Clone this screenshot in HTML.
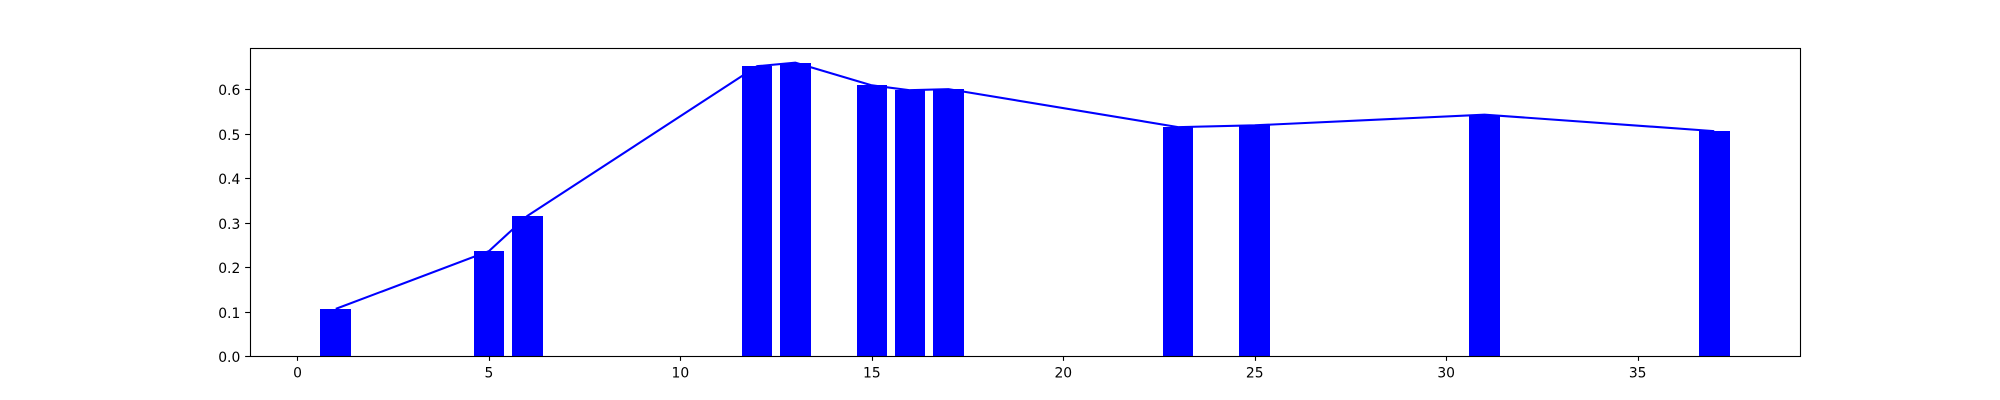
<!DOCTYPE html>
<html>
<head>
<meta charset="utf-8">
<style>
html,body{margin:0;padding:0;background:#fff;}
svg{display:block;}
text{font-family:"DejaVu Sans","Liberation Sans",sans-serif;font-size:13.89px;fill:#000;}
</style>
</head>
<body>
<svg id="chart" width="2000" height="400" viewBox="0 0 2000 400" xmlns="http://www.w3.org/2000/svg"></svg>
<script>
const categories = [1, 5, 6, 12, 13, 15, 16, 17, 23, 25, 31, 37];
const seriesValues = [0.106, 0.236, 0.315, 0.652, 0.660, 0.609, 0.598, 0.6005, 0.515, 0.519, 0.543, 0.506];
const xTickLabels = [0, 5, 10, 15, 20, 25, 30, 35];
const yTickLabels = ['0.0', '0.1', '0.2', '0.3', '0.4', '0.5', '0.6'];
const barWidth = 0.8;

const NS = 'http://www.w3.org/2000/svg';
const svg = document.getElementById('chart');
const plot = { left: 250, right: 1800, top: 48, bottom: 356 };

const xMinData = Math.min(...categories) - barWidth / 2;
const xMaxData = Math.max(...categories) + barWidth / 2;
const xPad = (xMaxData - xMinData) * 0.05;
const xMin = xMinData - xPad;
const xMax = xMaxData + xPad;
const yMin = 0;
const yMax = Math.max(...seriesValues) * 1.05;

function xScale(v) {
  return plot.left + (v - xMin) / (xMax - xMin) * (plot.right - plot.left);
}
function yScale(v) {
  return plot.bottom - (v - yMin) / (yMax - yMin) * (plot.bottom - plot.top);
}
function make(tag, attrs, parent) {
  const el = document.createElementNS(NS, tag);
  for (const k in attrs) el.setAttribute(k, attrs[k]);
  parent.appendChild(el);
  return el;
}

const bg = make('rect', { x: 0, y: 0, width: 2000, height: 400, fill: '#fff' }, svg);



categories.forEach((c, i) => {
  const x0 = Math.round(xScale(c - barWidth / 2));
  const x1 = Math.round(xScale(c + barWidth / 2));
  const y0 = Math.round(yScale(seriesValues[i]));
  const bar = make('rect', { x: x0, y: y0, width: x1 - x0, height: plot.bottom - y0, fill: '#0000ff' }, svg);
  
  
});

const linePoints = categories.map((c, i) => xScale(c).toFixed(2) + ',' + yScale(seriesValues[i]).toFixed(2)).join(' ');
const line = make('polyline', { points: linePoints, fill: 'none', stroke: '#0000ff', 'stroke-width': 2.08, 'stroke-linejoin': 'round', 'stroke-linecap': 'butt' }, svg);



xTickLabels.forEach((t) => {
  const px = Math.round(xScale(t)) + 0.5;
  const tick = make('line', { x1: px, x2: px, y1: plot.bottom, y2: plot.bottom + 4.86, stroke: '#000', 'stroke-width': 1.11 }, svg);
  
  
  const label = make('text', { x: xScale(t), y: plot.bottom + 21.3, 'text-anchor': 'middle' }, svg);
  label.textContent = String(t);
  
  
});

yTickLabels.forEach((t) => {
  const py = Math.round(yScale(Number(t))) + 0.5;
  const tick = make('line', { x1: plot.left - 4.86, x2: plot.left, y1: py, y2: py, stroke: '#000', 'stroke-width': 1.11 }, svg);
  
  
  const label = make('text', { x: plot.left - 9.7, y: py + 5.6, 'text-anchor': 'end' }, svg);
  label.textContent = t;
  
  
});

const frame = make('rect', { x: plot.left + 0.5, y: plot.top + 0.5, width: plot.right - plot.left, height: plot.bottom - plot.top, fill: 'none', stroke: '#000', 'stroke-width': 1.11 }, svg);


</script>
</body>
</html>
